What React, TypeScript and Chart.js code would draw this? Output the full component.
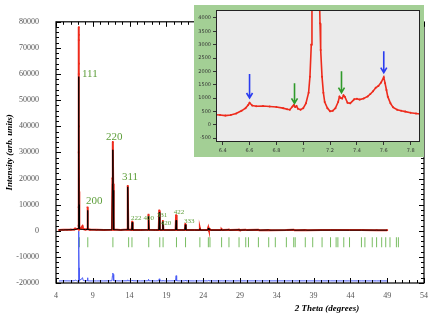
import React, { useEffect, useRef } from 'react';
import { Chart, registerables } from 'chart.js';
Chart.register(...registerables);

// ---------- main pattern data ----------
const obsX = [4.4, 5.0, 5.5, 6.0, 6.5, 6.6, 6.8, 7.0, 7.06, 7.07, 7.08, 7.09, 7.095, 7.1, 7.105, 7.11, 7.12, 7.13, 7.14, 7.16, 7.2, 7.28, 7.4, 7.6, 7.7, 8.0, 8.22, 8.28, 8.34, 8.6, 9.5, 10.5, 11.6, 11.67, 11.72, 11.77, 11.84, 12.8, 13.68, 13.75, 13.82, 14.28, 14.35, 14.42, 15.5, 16.5, 16.57, 16.64, 17.5, 17.96, 18.03, 18.1, 18.45, 18.52, 18.59, 19.5, 20.25, 20.32, 20.39, 21.0, 21.5, 21.57, 21.64, 22.8, 23.5, 23.55, 23.6, 24.62, 24.7, 24.78, 24.92, 25.05, 26.42, 26.5, 26.58, 27.5, 27.6, 28.87, 28.95, 29.78, 29.9, 31.5, 31.6, 32.9, 33.0, 35.3, 36.3, 36.4, 37.87, 38.0, 40.15, 41.3, 42.3, 43.88, 45.5, 47.56, 49.0];
const obsY = [300, 350, 380, 400, 500, 850, 700, 700, 2000, 9000, 30000, 60000, 73000, 78000, 75000, 64000, 40000, 15000, 4000, 1500, 600, 1100, 1000, 1750, 650, 450, 600, 9000, 600, 400, 350, 320, 400, 20000, 34000, 18000, 450, 300, 450, 17200, 450, 350, 3500, 350, 300, 350, 6200, 350, 300, 350, 7800, 350, 300, 3800, 300, 300, 350, 6000, 350, 300, 300, 2600, 300, 280, 280, 900, 280, 280, 1200, 280, 500, 270, 260, 550, 260, 400, 250, 400, 250, 350, 250, 380, 240, 320, 240, 280, 380, 230, 280, 230, 260, 280, 260, 250, 250, 240, 230];
const calcY = [300, 320, 360, 400, 450, 500, 600, 900, 1500, 6000, 22000, 45000, 56000, 59000, 57000, 48000, 28000, 10000, 3000, 1200, 700, 600, 550, 500, 500, 450, 500, 7800, 550, 400, 350, 320, 350, 18000, 31000, 15500, 400, 300, 400, 16800, 400, 300, 3200, 300, 300, 300, 5600, 300, 300, 300, 7000, 300, 300, 3500, 300, 280, 300, 4000, 300, 300, 280, 2300, 280, 280, 260, 800, 260, 260, 1050, 260, 450, 260, 250, 500, 250, 370, 250, 370, 240, 330, 240, 350, 230, 300, 230, 260, 360, 220, 260, 220, 250, 260, 250, 240, 240, 235, 230];
const DIFF_OFFSET = -19200;

const braggX = [7.18, 8.32, 11.73, 13.87, 14.32, 16.6, 18.1, 18.55, 20.37, 21.6, 23.55, 24.7, 24.92, 26.5, 27.5, 28.87, 29.78, 30.15, 31.5, 32.9, 33.8, 35.3, 36.3, 36.5, 37.87, 38.88, 40.15, 41.3, 42.06, 42.3, 43.1, 43.88, 45.5, 45.97, 46.97, 47.56, 48.25, 48.8, 49.38, 50.25, 50.52];
const BRAGG_Y = -4400;

const xTicks = [4, 9, 14, 19, 24, 29, 34, 39, 44, 49, 54];
const yTicks = [-20000, -10000, 0, 10000, 20000, 30000, 40000, 50000, 60000, 70000, 80000];

const hklText = ['111', '200', '220', '311', '222', '400', '331', '420', '422', '333'];
const hklX = [8.6, 9.2, 11.9, 14.05, 14.9, 16.6, 18.4, 18.95, 20.7, 22.1];
const hklY = [59900, 11500, 36000, 20700, 4700, 5000, 6100, 2900, 7300, 3600];
const hklSize = [11, 11, 11, 11, 7, 7, 7, 7, 7, 7];

// ---------- inset data ----------
const insetX = [6.35, 6.38, 6.42, 6.46, 6.5, 6.54, 6.57, 6.59, 6.6, 6.62, 6.65, 6.7, 6.75, 6.8, 6.85, 6.88, 6.9, 6.92, 6.93, 6.94, 6.95, 6.96, 6.98, 7.0, 7.02, 7.04, 7.05, 7.06, 7.065, 7.08, 7.095, 7.11, 7.12, 7.125, 7.13, 7.14, 7.15, 7.16, 7.18, 7.2, 7.22, 7.24, 7.26, 7.27, 7.28, 7.29, 7.3, 7.31, 7.33, 7.35, 7.38, 7.4, 7.42, 7.45, 7.48, 7.5, 7.52, 7.54, 7.56, 7.58, 7.6, 7.61, 7.62, 7.63, 7.65, 7.67, 7.7, 7.73, 7.76, 7.8, 7.84, 7.87];
const insetY = [370, 360, 340, 360, 420, 520, 620, 740, 820, 720, 690, 700, 680, 660, 620, 580, 560, 680, 740, 660, 700, 600, 560, 620, 800, 1200, 1800, 3000, 4500, 9000, 12000, 9000, 5000, 3800, 2800, 1800, 1200, 850, 620, 500, 520, 620, 850, 1050, 1000, 980, 1100, 1050, 820, 800, 950, 970, 940, 980, 1060, 1150, 1250, 1380, 1450, 1580, 1780, 1550, 1300, 1050, 800, 650, 560, 520, 490, 450, 420, 400];
const insetXTicks = [6.4, 6.6, 6.8, 7, 7.2, 7.4, 7.6, 7.8];
const insetYTicks = [-500, 0, 500, 1000, 1500, 2000, 2500, 3000, 3500, 4000];

const arrowX = [6.6, 6.935, 7.285, 7.6];
const arrowTop = [1900, 1550, 2000, 2750];
const arrowBottom = [1000, 800, 1200, 1950];
const arrowColor = ['#2a3cf0', '#2f9a2a', '#2f9a2a', '#2a3cf0'];

const SERIF = '"Liberation Serif", "DejaVu Serif", serif';

const mainPlugin = {
  id: 'mainDecor',
  afterDatasetsDraw(chart: any) {
    const { ctx, chartArea, scales } = chart;
    const { left, right, top, bottom } = chartArea;
    const x = scales.x, y = scales.y;
    ctx.save();
    ctx.strokeStyle = '#000';
    ctx.lineWidth = 1.2;
    ctx.strokeRect(left, top, right - left, bottom - top);
    ctx.lineWidth = 1;
    for (let v = 4; v <= 54; v += 1) {
      const px = Math.round(x.getPixelForValue(v)) + 0.5;
      const len = (v - 4) % 5 === 0 ? 5 : 3;
      ctx.beginPath();
      ctx.moveTo(px, bottom); ctx.lineTo(px, bottom - len);
      ctx.moveTo(px, top); ctx.lineTo(px, top + len);
      ctx.stroke();
    }
    for (let v = -20000; v <= 80000; v += 2000) {
      const py = Math.round(y.getPixelForValue(v)) + 0.5;
      const len = v % 10000 === 0 ? 5 : 3;
      ctx.beginPath();
      ctx.moveTo(left, py); ctx.lineTo(left + len, py);
      ctx.moveTo(right, py); ctx.lineTo(right - len, py);
      ctx.stroke();
    }
    ctx.fillStyle = '#5d9e3a';
    ctx.textAlign = 'center';
    ctx.textBaseline = 'middle';
    hklText.forEach((t, i) => {
      ctx.font = `${hklSize[i]}px ${SERIF}`;
      ctx.fillText(t, x.getPixelForValue(hklX[i]), y.getPixelForValue(hklY[i]));
    });
    ctx.fillStyle = '#000';
    ctx.font = `italic bold 9px ${SERIF}`;
    ctx.fillText('2 Theta (degrees)', 327, 309);
    ctx.restore();
  },
};

const insetPlugin = {
  id: 'insetDecor',
  beforeDraw(chart: any) {
    const { ctx, chartArea, width, height } = chart;
    ctx.save();
    ctx.fillStyle = '#a3cf95';
    ctx.fillRect(0, 0, width, height);
    ctx.fillStyle = '#ebebeb';
    ctx.fillRect(chartArea.left, chartArea.top, chartArea.right - chartArea.left, chartArea.bottom - chartArea.top);
    ctx.restore();
  },
  afterDraw(chart: any) {
    const { ctx, chartArea, scales } = chart;
    const { left, right, top, bottom } = chartArea;
    ctx.save();
    ctx.strokeStyle = '#222';
    ctx.lineWidth = 1;
    ctx.strokeRect(left + 0.5, top + 0.5, right - left - 1, bottom - top - 1);
    arrowX.forEach((ax, i) => {
      const px = scales.x.getPixelForValue(ax);
      const y0 = scales.y.getPixelForValue(arrowTop[i]);
      const y1 = scales.y.getPixelForValue(arrowBottom[i]);
      ctx.strokeStyle = arrowColor[i];
      ctx.lineWidth = 1.6;
      ctx.beginPath();
      ctx.moveTo(px, y0); ctx.lineTo(px, y1);
      ctx.moveTo(px - 3, y1 - 5); ctx.lineTo(px, y1); ctx.lineTo(px + 3, y1 - 5);
      ctx.stroke();
    });
    ctx.restore();
  },
};

export default function App() {
  const mainRef = useRef<HTMLCanvasElement>(null);
  const insetRef = useRef<HTMLCanvasElement>(null);

  useEffect(() => {
    const obs = obsX.map((x, i) => ({ x, y: obsY[i] }));
    const calc = obsX.map((x, i) => ({ x, y: calcY[i] }));
    const diff = obsX.map((x, i) => ({ x, y: obsY[i] - calcY[i] + DIFF_OFFSET }));
    const bragg = braggX.map((x) => ({ x, y: BRAGG_Y }));

    const main = new Chart(mainRef.current!, {
      type: 'scatter',
      data: {
        datasets: [
          { data: calc, showLine: true, borderColor: '#000', borderWidth: 1, pointRadius: 0, order: 1 },
          { data: obs, showLine: true, borderColor: '#ee2b1c', borderWidth: 2, pointRadius: 1.2, pointStyle: 'rect', pointBackgroundColor: '#ee2b1c', pointBorderWidth: 0, order: 2 },
          { data: diff, showLine: true, borderColor: '#4a5cf5', borderWidth: 1, pointRadius: 0, order: 0 },
          { data: bragg, showLine: false, pointStyle: 'line', rotation: 90, pointRadius: 5, borderColor: '#79bd62', pointBorderColor: '#79bd62', borderWidth: 1, order: 3 },
        ],
      },
      options: {
        animation: false,
        responsive: false,
        devicePixelRatio: 1,
        layout: { padding: { left: 4, right: 11, top: 5, bottom: 0 } },
        plugins: { legend: { display: false }, tooltip: { enabled: false } },
        scales: {
          x: {
            type: 'linear', min: 4, max: 54,
            afterBuildTicks: (s: any) => { s.ticks = xTicks.map((v) => ({ value: v })); },
            afterFit: (s: any) => { s.height = 39; },
            grid: { display: false, drawTicks: false },
            border: { display: false },
            ticks: { padding: 8, color: '#555', font: { family: SERIF, size: 8 }, maxRotation: 0, callback: (v: any) => String(v) },
          },
          y: {
            type: 'linear', min: -20000, max: 80000,
            afterBuildTicks: (s: any) => { s.ticks = yTicks.map((v) => ({ value: v })); },
            afterFit: (s: any) => { s.width = 52; },
            grid: { display: false, drawTicks: false },
            border: { display: false },
            ticks: { padding: 17, color: '#555', font: { family: SERIF, size: 8 }, callback: (v: any) => String(v) },
            title: { display: true, text: 'Intensity (arb. units)', color: '#000', padding: 0, font: { family: SERIF, size: 9, weight: 'bold', style: 'italic' } },
          },
        },
      },
      plugins: [mainPlugin],
    } as any);

    const inset = new Chart(insetRef.current!, {
      type: 'scatter',
      data: {
        datasets: [
          { data: insetX.map((x, i) => ({ x, y: insetY[i] })), showLine: true, borderColor: '#ee2b1c', borderWidth: 1.6, pointRadius: 1, pointBackgroundColor: '#ee2b1c', pointBorderWidth: 0 },
        ],
      },
      options: {
        animation: false,
        responsive: false,
        devicePixelRatio: 1,
        layout: { padding: { left: 0, right: 1, top: 1, bottom: 0 } },
        plugins: { legend: { display: false }, tooltip: { enabled: false } },
        scales: {
          x: {
            type: 'linear', min: 6.35, max: 7.87,
            afterBuildTicks: (s: any) => { s.ticks = insetXTicks.map((v) => ({ value: v })); },
            afterFit: (s: any) => { s.height = 15; },
            grid: { drawOnChartArea: false, drawTicks: true, tickLength: 3, color: '#333' },
            border: { display: false },
            ticks: { padding: 3, color: '#333', font: { family: '"DejaVu Sans", sans-serif', size: 5 }, maxRotation: 0, callback: (v: any) => String(v) },
          },
          y: {
            type: 'linear', min: -650, max: 4300,
            afterBuildTicks: (s: any) => { s.ticks = insetYTicks.map((v) => ({ value: v })); },
            afterFit: (s: any) => { s.width = 22; },
            grid: { drawOnChartArea: false, drawTicks: true, tickLength: 3, color: '#333' },
            border: { display: false },
            ticks: { padding: 2, color: '#333', font: { family: '"DejaVu Sans", sans-serif', size: 5 }, callback: (v: any) => String(v) },
          },
        },
      },
      plugins: [insetPlugin],
    } as any);

    return () => { main.destroy(); inset.destroy(); };
  }, []);

  return (
    <div style={{ position: 'fixed', left: 0, top: 0, width: 436, height: 322, background: '#fff' }}>
      <canvas ref={mainRef} width={436} height={322} style={{ position: 'absolute', left: 0, top: 0 }} />
      <canvas ref={insetRef} width={230} height={152} style={{ position: 'absolute', left: 194, top: 5 }} />
    </div>
  );
}
